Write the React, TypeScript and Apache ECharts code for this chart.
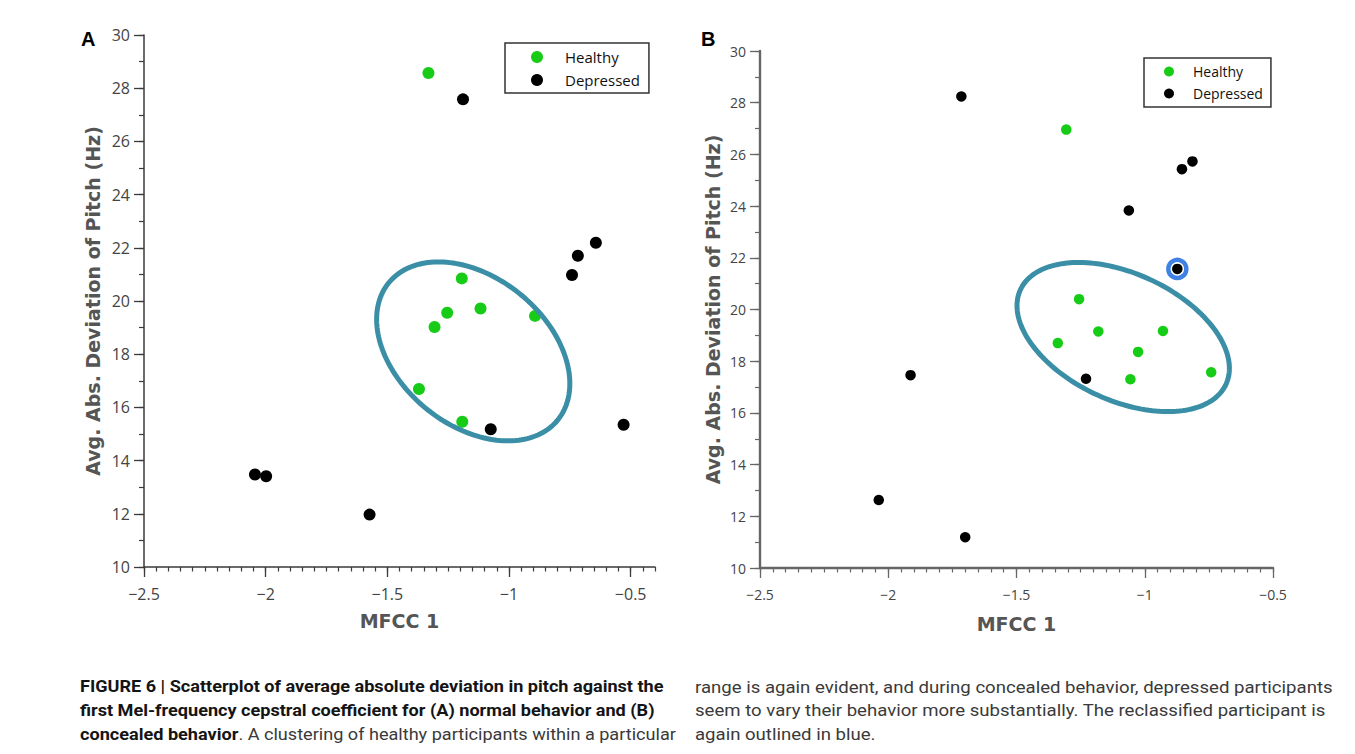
import React, { useEffect, useRef } from 'react';
import * as echarts from 'echarts';

// ---------- Data ----------
const healthyA: number[][] = [
  [-1.331, 28.57], [-1.194, 20.85], [-1.254, 19.56], [-1.117, 19.72],
  [-1.306, 19.02], [-0.893, 19.44], [-1.37, 16.69], [-1.192, 15.46],
];
const depressedA: number[][] = [
  [-1.189, 27.58], [-0.643, 22.19], [-0.717, 21.7], [-0.741, 20.98],
  [-1.075, 15.18], [-0.529, 15.35], [-2.044, 13.48], [-1.998, 13.41], [-1.573, 11.97],
];
const healthyB: number[][] = [
  [-1.306, 26.96], [-1.256, 20.4], [-1.181, 19.15], [-0.929, 19.17],
  [-1.339, 18.7], [-1.026, 18.36], [-1.056, 17.3], [-0.741, 17.57],
];
const depressedB: number[][] = [
  [-1.715, 28.24], [-0.814, 25.73], [-0.855, 25.43], [-1.062, 23.83], [-0.873, 21.57],
  [-1.229, 17.32], [-1.913, 17.46], [-2.037, 12.63], [-1.7, 11.19],
];
const reclassifiedB: number[][] = [[-0.873, 21.57]];
// ellipse annotations: [centerX, centerY, halfWidthX, halfHeightY, correlation]
const ellipseA: number[][] = [[-1.147, 18.105, 0.397, 3.363, -0.36]];
const ellipseB: number[][] = [[-1.084, 18.935, 0.414, 2.884, -0.42]];

const xTickValues = [-2.5, -2, -1.5, -1, -0.5];
const yTickValues = [10, 12, 14, 16, 18, 20, 22, 24, 26, 28, 30];
const seriesNames = ['Healthy', 'Depressed'];
const xTitle = 'MFCC 1';
const yTitle = 'Avg. Abs. Deviation of Pitch (Hz)';

const captionLeft = [
  [{ t: 'FIGURE 6 | Scatterplot of average absolute deviation in pitch against the', b: true }],
  [{ t: 'first Mel-frequency cepstral coefficient for (A) normal behavior and (B)', b: true }],
  [{ t: 'concealed behavior', b: true }, { t: '. A clustering of healthy participants within a particular', b: false }],
];
const captionRight = [
  [{ t: 'range is again evident, and during concealed behavior, depressed participants', b: false }],
  [{ t: 'seem to vary their behavior more substantially. The reclassified participant is', b: false }],
  [{ t: 'again outlined in blue.', b: false }],
];

const GREEN = '#17cc17';
const TEAL = '#3a8ea6';
const BLUE = '#3f82e4';
const CAP_FONT = 'Roboto';
const CAP_SIZE = 17;
const NAME_FONT = 'DejaVu Sans';

function measure(text: string, bold: boolean): number {
  const c = document.createElement('canvas').getContext('2d');
  if (!c) return text.length * 8;
  c.font = `${bold ? 'bold ' : ''}${CAP_SIZE}px ${CAP_FONT}`;
  return c.measureText(text).width;
}

const fmt = (v: number) => String(v).replace('-', '\u2212');

function ellipseRender(_params: any, api: any) {
  const cx = api.value(0), cy = api.value(1), wx = api.value(2), hy = api.value(3), rho = api.value(4);
  const k = Math.sqrt(1 - rho * rho);
  const pts: number[][] = [];
  const n = 180;
  for (let i = 0; i < n; i++) {
    const t = (i / n) * Math.PI * 2;
    pts.push(api.coord([cx + wx * Math.cos(t), cy + hy * (rho * Math.cos(t) + k * Math.sin(t))]));
  }
  return {
    type: 'polygon',
    shape: { points: pts },
    style: { fill: 'none', stroke: TEAL, lineWidth: 5 },
  };
}

function axesFor(grid: number, xmax: number, fs: number, lineColor: string, lineW: number, nameGapY: number, nameGapX: number) {
  const nameStyle = { fontSize: 19, fontWeight: 'bold', color: '#555', fontFamily: NAME_FONT };
  const xMajor = {
    type: 'value', gridIndex: grid, position: 'bottom', min: -2.5, max: xmax, interval: 0.5,
    axisLine: { show: true, lineStyle: { color: lineColor, width: lineW } },
    axisTick: { show: true, length: 10, customValues: xTickValues, lineStyle: { color: lineColor, width: 1.3 } },
    axisLabel: { show: true, customValues: xTickValues, formatter: fmt, fontSize: fs, fontFamily: 'Open Sans', color: '#444', margin: 19 },
    splitLine: { show: false },
    name: xTitle, nameLocation: 'middle', nameGap: nameGapX, nameTextStyle: nameStyle,
  };
  const xMinor = {
    type: 'value', gridIndex: grid, position: 'bottom', min: -2.5, max: xmax, interval: 0.05,
    axisLine: { show: false },
    axisTick: { show: true, length: 4.5, lineStyle: { color: lineColor, width: 1.2 } },
    axisLabel: { show: false }, splitLine: { show: false },
  };
  const yMajor = {
    type: 'value', gridIndex: grid, position: 'left', min: 10, max: 30, interval: 2,
    axisLine: { show: true, lineStyle: { color: lineColor, width: lineW } },
    axisTick: { show: true, length: 10, customValues: yTickValues, lineStyle: { color: lineColor, width: 1.3 } },
    axisLabel: { show: true, formatter: fmt, fontSize: fs, fontFamily: 'Open Sans', color: '#444', margin: 14 },
    splitLine: { show: false },
    name: yTitle, nameLocation: 'middle', nameGap: nameGapY, nameTextStyle: nameStyle,
  };
  const yMinor = {
    type: 'value', gridIndex: grid, position: 'left', min: 10, max: 30, interval: 1,
    axisLine: { show: false },
    axisTick: { show: true, length: 5, lineStyle: { color: lineColor, width: 1.2 } },
    axisLabel: { show: false }, splitLine: { show: false },
  };
  return { x: [xMajor, xMinor], y: [yMajor, yMinor] };
}

function captionGraphics(lines: { t: string; b: boolean }[][], x0: number, targetWidth: number, ys: number[]) {
  const firstW = lines[0].reduce((s, p) => s + measure(p.t, p.b), 0);
  const sc = targetWidth / firstW;
  const els: any[] = [];
  lines.forEach((parts, li) => {
    let x = x0;
    parts.forEach((p) => {
      els.push({
        type: 'text', x, y: ys[li], scaleX: sc, silent: true,
        style: {
          text: p.t, fontSize: CAP_SIZE, fontFamily: CAP_FONT, fontWeight: p.b ? 'bold' : 'normal',
          fill: p.b ? '#141414' : '#3a3a3a', align: 'left', verticalAlign: 'middle',
        },
      });
      x += measure(p.t, p.b) * sc;
    });
  });
  return els;
}

export default function App() {
  const ref = useRef<HTMLDivElement>(null);
  useEffect(() => {
    if (!ref.current) return;
    const chart = echarts.init(ref.current, undefined, { renderer: 'svg' });
    const a = axesFor(0, -0.4, 16, '#3a3a3a', 1.5, 42, 44);
    const b = axesFor(1, -0.5, 14, '#666', 2.4, 38, 46);
    const capYs = [686.5, 710, 734];
    const option: any = {
      animation: false,
      backgroundColor: '#fff',
      grid: [
        { left: 144, top: 35, width: 511, height: 532 },
        { left: 760, top: 51, width: 513, height: 517 },
      ],
      xAxis: [...a.x, ...b.x],
      yAxis: [...a.y, ...b.y],
      legend: [
        {
          data: seriesNames, orient: 'vertical', left: 505, top: 43, padding: [6, 9, 5, 26],
          itemWidth: 46, itemHeight: 12, itemGap: 7, icon: 'circle', selectedMode: false,
          borderColor: '#333', borderWidth: 1.5,
          textStyle: { fontSize: 15, fontFamily: 'Open Sans', color: '#111', lineHeight: 16 },
        },
        {
          data: seriesNames, orient: 'vertical', left: 1144, top: 58, padding: [6, 8, 6, 20],
          itemWidth: 38, itemHeight: 10, itemGap: 7, icon: 'circle', selectedMode: false,
          borderColor: '#333', borderWidth: 1.5,
          textStyle: { fontSize: 14, fontFamily: 'Open Sans', color: '#111', lineHeight: 15 },
        },
      ],
      series: [
        { name: 'Healthy', type: 'scatter', xAxisIndex: 0, yAxisIndex: 0, data: healthyA, symbolSize: 12, itemStyle: { color: GREEN, opacity: 1 }, z: 2 },
        { name: 'Depressed', type: 'scatter', xAxisIndex: 0, yAxisIndex: 0, data: depressedA, symbolSize: 12, itemStyle: { color: '#000', opacity: 1 }, z: 2 },
        { name: 'ellipseA', type: 'custom', xAxisIndex: 0, yAxisIndex: 0, data: ellipseA, renderItem: ellipseRender, z: 3, silent: true },
        { name: 'ellipseB', type: 'custom', xAxisIndex: 2, yAxisIndex: 2, data: ellipseB, renderItem: ellipseRender, z: 1, silent: true },
        { name: 'Healthy', type: 'scatter', xAxisIndex: 2, yAxisIndex: 2, data: healthyB, symbolSize: 10.5, itemStyle: { color: GREEN, opacity: 1 }, z: 2 },
        { name: 'reclassified', type: 'scatter', xAxisIndex: 2, yAxisIndex: 2, data: reclassifiedB, symbolSize: 18, itemStyle: { color: '#fff', borderColor: BLUE, borderWidth: 4.5, opacity: 1 }, z: 2 },
        { name: 'Depressed', type: 'scatter', xAxisIndex: 2, yAxisIndex: 2, data: depressedB, symbolSize: 10.5, itemStyle: { color: '#000', opacity: 1 }, z: 2 },
      ],
      graphic: [
        { type: 'text', x: 81, y: 38.5, silent: true, style: { text: 'A', font: 'bold 20px "Liberation Sans"', fill: '#000', align: 'left', verticalAlign: 'middle' } },
        { type: 'text', x: 701, y: 39, silent: true, style: { text: 'B', font: 'bold 20px "Liberation Sans"', fill: '#000', align: 'left', verticalAlign: 'middle' } },
        ...captionGraphics(captionLeft, 80, 584, capYs),
        ...captionGraphics(captionRight, 695, 638, capYs),
      ],
    };
    chart.setOption(option);
    return () => chart.dispose();
  }, []);
  return (
    <div
      ref={ref}
      style={{ position: 'fixed', left: 0, top: 0, width: 1355, height: 754, background: '#fff' }}
    />
  );
}
